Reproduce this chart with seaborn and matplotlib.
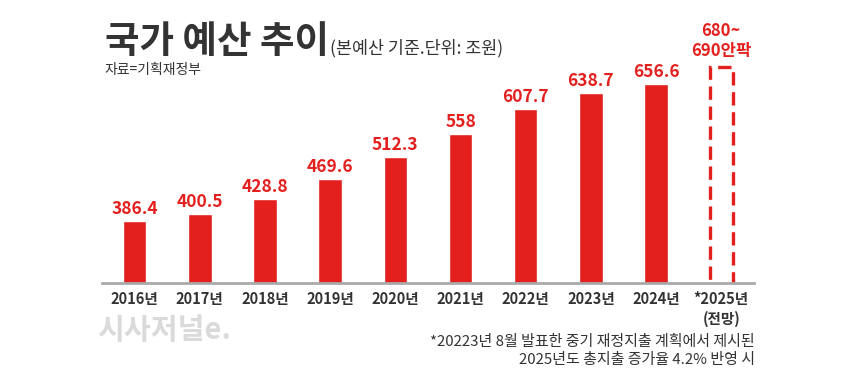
import matplotlib
matplotlib.use('Agg')
import matplotlib.pyplot as plt
import seaborn as sns
import pandas as pd
import numpy as np

# data
years = ['2016년', '2017년', '2018년', '2019년', '2020년', '2021년',
         '2022년', '2023년', '2024년', '*2025년\n(전망)']
budget = [386.4, 400.5, 428.8, 469.6, 512.3, 558, 607.7, 638.7, 656.6, 690]
value_labels = ['386.4', '400.5', '428.8', '469.6', '512.3', '558',
                '607.7', '638.7', '656.6', '680~\n690안팍']

RED = '#E3201E'
DARK = '#333333'

sns.set_theme(style='white')
plt.rcParams['font.family'] = ['Noto Sans CJK KR', 'DejaVu Sans']

df = pd.DataFrame({'year': years, 'budget': budget})

fig = plt.figure(figsize=(8.6, 3.84), dpi=100)
ax = fig.add_axes([0.1186, 0.263, 0.758, 0.581])

sns.barplot(data=df, x='year', y='budget', color=RED, width=0.36,
            saturation=1, ax=ax)

# forecast bar as dashed outline
last = ax.patches[-1]
last.set_facecolor('none')
last.set_edgecolor(RED)
last.set_linewidth(2.4)
last.set_linestyle((0, (4, 2)))

ax.set_ylim(263, 705)
ax.set_xlim(-0.5, 9.5)

for i, (v, lab) in enumerate(zip(budget, value_labels)):
    if i < len(budget) - 1:
        ax.text(i, v + 6, lab, ha='center', va='bottom', color=RED,
                fontsize=12.5, fontweight='bold')
    else:
        ax.text(i, v + 14, lab, ha='center', va='bottom', color=RED,
                fontsize=12, fontweight='bold', linespacing=1.2)

for s in ['top', 'right', 'left']:
    ax.spines[s].set_visible(False)
ax.spines['bottom'].set_color('#aaaaaa')
ax.spines['bottom'].set_linewidth(2)
ax.set_yticks([])
ax.set_xlabel('')
ax.set_ylabel('')
ax.set_xticks(range(len(years)))
ax.set_xticklabels(years, fontsize=10.5, fontweight='bold', color=DARK,
                   linespacing=1.3)
ax.tick_params(axis='x', which='major', length=0, pad=6)
ax.set_xticks(np.arange(-0.5, 10, 1), minor=True)
ax.tick_params(axis='x', which='minor', direction='inout', length=18,
               width=1.2, color='#aaaaaa')

# titles
fig.text(0.122, 0.862, '국가 예산 추이', fontsize=27, fontweight='bold',
         color=DARK, ha='left', va='baseline')
fig.text(0.384, 0.862, '(본예산 기준.단위: 조원)', fontsize=12.5,
         fontweight='medium', color=DARK, ha='left', va='baseline')
fig.text(0.122, 0.808, '자료=기획재정부', fontsize=10, fontweight='medium',
         color=DARK, ha='left', va='baseline')

# watermark
fig.text(0.113, 0.14, '시사저널e.', fontsize=21, fontweight='black',
         fontstyle='italic', color='#dadada', ha='left', va='center')

# footnote
fig.text(0.878, 0.11, '*20223년 8월 발표한 중기 재정지출 계획에서 제시된',
         fontsize=10.8, color=DARK, ha='right', va='center')
fig.text(0.878, 0.062, '2025년도 총지출 증가율 4.2% 반영 시',
         fontsize=10.8, color=DARK, ha='right', va='center')

fig.savefig('out.png', dpi=100)
